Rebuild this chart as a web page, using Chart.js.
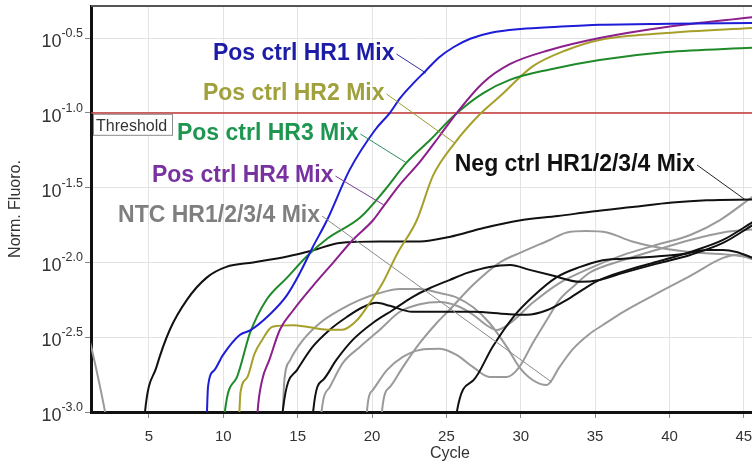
<!DOCTYPE html>
<html>
<head>
<meta charset="utf-8">
<title>Amplification plot</title>
<script src="https://cdn.jsdelivr.net/npm/chart.js@4.4.1/dist/chart.umd.min.js"></script>
<style>
  html, body { margin: 0; padding: 0; background: #ffffff; }
  #wrap { width: 752px; height: 465px; }
</style>
</head>
<body>
<div id="wrap"><canvas id="amp" width="752" height="465"></canvas></div>
<script>
// Axis ticks
const cycleTicks = [5, 10, 15, 20, 25, 30, 35, 40, 45];
const fluoroTickExps = [-3.0, -2.5, -2.0, -1.5, -1.0, -0.5];
const thresholdExp = -1.0;

// Amplification curves: [cycle, log10(Norm. Fluoro.)]
const posHR1 = [[8.85,-3.2],[8.9,-3.0],[8.97,-2.83],[9.4,-2.72],[9.97,-2.62],[11.1,-2.485],[11.8,-2.455],[13.1,-2.35],[14.27,-2.22],[15.15,-2.07],[16.0,-1.90],[16.96,-1.72],[18.5,-1.38],[20.2,-1.115],[21.2,-1.0],[21.9,-0.90],[22.8,-0.80],[23.6,-0.72],[24.5,-0.63],[25.5,-0.56],[26.6,-0.505],[28.0,-0.465],[30.0,-0.44],[32.5,-0.425],[35.3,-0.412],[40.0,-0.405],[45.6,-0.40]];
const posHR2 = [[11.0,-3.2],[11.08,-3.0],[11.15,-2.87],[11.6,-2.77],[12.1,-2.61],[12.6,-2.52],[13.3,-2.43],[14.7,-2.42],[15.6,-2.43],[17.0,-2.45],[18.0,-2.45],[19.0,-2.385],[19.85,-2.27],[20.7,-2.14],[21.7,-1.94],[23.0,-1.72],[24.1,-1.42],[25.56,-1.202],[27.2,-1.015],[28.6,-0.89],[30.8,-0.69],[33.1,-0.58],[35.3,-0.513],[39.8,-0.467],[45.6,-0.433]];
const posHR3 = [[10.0,-3.2],[10.1,-3.0],[10.9,-2.77],[11.8,-2.47],[12.9,-2.25],[14.3,-2.10],[15.6,-1.96],[17.0,-1.84],[19.2,-1.70],[20.86,-1.516],[22.3,-1.335],[23.9,-1.182],[25.56,-1.015],[27.45,-0.87],[29.26,-0.78],[31.95,-0.71],[35.3,-0.647],[39.8,-0.594],[45.6,-0.565]];
const posHR4 = [[12.2,-3.2],[12.3,-3.0],[12.6,-2.79],[13.1,-2.65],[13.8,-2.45],[14.7,-2.32],[16.0,-2.16],[17.4,-2.0],[18.7,-1.85],[20.05,-1.72],[20.8,-1.62],[21.87,-1.48],[23.2,-1.33],[24.5,-1.16],[25.7,-1.0],[27.45,-0.80],[29.26,-0.675],[31.95,-0.58],[35.3,-0.50],[39.8,-0.426],[45.6,-0.36]];

const negA = [[4.6,-3.2],[4.73,-3.0],[5.5,-2.70],[6.4,-2.45],[7.55,-2.25],[8.9,-2.10],[10.2,-2.03],[12.0,-2.0],[14.3,-1.96],[16.0,-1.92],[17.8,-1.87],[20.5,-1.86],[23.2,-1.86],[25.2,-1.83],[27.5,-1.77],[29.9,-1.72],[32.5,-1.69],[34.8,-1.66],[37.5,-1.63],[40.2,-1.60],[42.5,-1.585],[45.6,-1.58]];
const negB = [[13.9,-3.2],[14.0,-2.99],[14.95,-2.72],[16.0,-2.565],[17.16,-2.45],[18.3,-2.365],[19.4,-2.298],[20.3,-2.27],[21.2,-2.29],[22.7,-2.33],[24.56,-2.33],[26.8,-2.33],[29.06,-2.345],[30.4,-2.35],[31.75,-2.32],[33.1,-2.25],[34.2,-2.18],[35.3,-2.117],[36.9,-2.06],[39.1,-1.997],[41.4,-1.93],[43.6,-1.85],[45.6,-1.73]];
const negC = [[16.0,-3.2],[16.05,-2.987],[16.7,-2.786],[17.6,-2.652],[18.7,-2.518],[20.05,-2.405],[21.4,-2.318],[22.74,-2.23],[23.9,-2.171],[25.2,-2.118],[26.4,-2.07],[27.9,-2.03],[29.3,-2.017],[30.6,-2.05],[32.0,-2.084],[34.0,-2.13],[35.3,-2.117],[36.9,-2.07],[39.1,-2.01],[41.4,-1.95],[43.6,-1.87],[45.6,-1.75]];
const negD = [[25.6,-3.2],[25.7,-3.0],[26.8,-2.79],[28.1,-2.565],[29.5,-2.365],[30.8,-2.23],[32.4,-2.10],[34.0,-2.03],[35.3,-1.99],[36.9,-1.975],[39.1,-1.96],[40.9,-1.944],[42.5,-1.917],[43.6,-1.917],[44.5,-1.93],[45.6,-1.97]];

const ntcA = [[1.0,-2.52],[1.2,-2.6],[2.05,-3.0],[2.4,-3.2]];
const ntcB = [[13.9,-3.2],[14.0,-3.0],[14.1,-2.79],[14.5,-2.652],[15.35,-2.52],[16.5,-2.405],[17.84,-2.318],[19.18,-2.251],[20.5,-2.205],[21.87,-2.178],[23.2,-2.178],[24.56,-2.205],[25.7,-2.235],[26.8,-2.30],[27.9,-2.405],[29.06,-2.565],[29.9,-2.70],[30.8,-2.786],[31.75,-2.82],[32.6,-2.70],[33.5,-2.58],[34.6,-2.48],[35.5,-2.42],[36.9,-2.33],[39.1,-2.21],[41.4,-2.09],[43.6,-1.97],[44.5,-1.95],[45.6,-1.98]];
const ntcC = [[16.5,-3.2],[16.6,-3.0],[17.16,-2.833],[18.04,-2.672],[19.18,-2.565],[20.5,-2.452],[21.87,-2.33],[23.2,-2.28],[24.56,-2.265],[25.7,-2.29],[26.8,-2.35],[27.7,-2.42],[28.4,-2.452],[29.3,-2.405],[30.8,-2.27],[32.6,-2.138],[34.4,-2.05],[36.9,-1.95],[39.1,-1.884],[41.4,-1.817],[43.4,-1.717],[45.6,-1.56]];
const ntcD = [[19.6,-3.2],[19.65,-3.0],[20.05,-2.853],[21.0,-2.72],[22.07,-2.632],[23.2,-2.585],[24.56,-2.578],[25.7,-2.62],[26.8,-2.70],[27.9,-2.766],[29.06,-2.766],[29.9,-2.70],[30.8,-2.54],[31.75,-2.385],[32.6,-2.25],[33.5,-2.164],[34.6,-2.071],[35.3,-2.037],[36.9,-1.984],[39.1,-1.917],[41.4,-1.85],[43.6,-1.80],[45.6,-1.78]];
const ntcE = [[20.6,-3.2],[20.66,-3.0],[21.2,-2.833],[22.07,-2.70],[23.2,-2.54],[24.35,-2.405],[25.2,-2.318],[26.8,-2.15],[28.6,-2.0],[30.1,-1.93],[31.95,-1.85],[33.1,-1.80],[34.4,-1.79],[35.8,-1.80],[37.5,-1.86],[39.8,-1.91],[42.0,-1.935],[44.25,-1.95],[45.6,-1.97]];

const FONT = "'Liberation Sans', Arial, Helvetica, sans-serif";
const BLUE = '#1d1dd8', OLIVE = '#a6a02a', GREEN = '#1f8a2a', PURPLE = '#8b1f8b', BLACK = '#111111', GRAY = '#9a9a9a';

// Listed first = drawn on top
const series = [
  { data: posHR1, color: BLUE },
  { data: posHR4, color: PURPLE },
  { data: posHR3, color: GREEN },
  { data: posHR2, color: OLIVE },
  { data: negA, color: BLACK },
  { data: negB, color: BLACK },
  { data: negC, color: BLACK },
  { data: negD, color: BLACK },
  { data: ntcA, color: GRAY },
  { data: ntcB, color: GRAY },
  { data: ntcC, color: GRAY },
  { data: ntcD, color: GRAY },
  { data: ntcE, color: GRAY }
];

// Callout labels: text anchor and leader target in [cycle, log10] space
const callouts = [
  { text: 'Pos ctrl HR1 Mix', color: '#1c1ca6', line: '#3030a0', at: [9.30, -0.647], to: [23.62, -0.734] },
  { text: 'Pos ctrl HR2 Mix', color: '#a0a03c', line: '#9a9a30', at: [8.63, -0.914], to: [25.56, -1.202] },
  { text: 'Pos ctrl HR3 Mix', color: '#1e9650', line: '#2a9060', at: [6.88, -1.182], to: [22.34, -1.336] },
  { text: 'Pos ctrl HR4 Mix', color: '#7832a0', line: '#7a3a90', at: [5.20, -1.463], to: [20.79, -1.616] },
  { text: 'NTC HR1/2/3/4 Mix', color: '#7f7f7f', line: '#8a8a8a', at: [2.92, -1.730], to: [32.08, -2.80] },
  { text: 'Neg ctrl HR1/2/3/4 Mix', color: '#111111', line: '#222222', at: [25.56, -1.389], to: [45.12, -1.583] }
];

const pow10 = e => Math.pow(10, e);
const toPoints = arr => arr.map(([c, e]) => ({ x: c, y: pow10(e) }));

const decorations = {
  id: 'ampDecor',
  beforeDatasetsDraw(chart) {
    const { ctx, chartArea: a, scales: { y } } = chart;
    const ty = Math.round(y.getPixelForValue(pow10(thresholdExp)));
    ctx.save();
    ctx.strokeStyle = '#c23434';
    ctx.lineWidth = 1.5;
    ctx.beginPath();
    ctx.moveTo(a.left, ty);
    ctx.lineTo(a.right, ty);
    ctx.stroke();
    ctx.restore();
  },
  afterDatasetsDraw(chart) {
    const { ctx, chartArea: a, scales: { x, y } } = chart;
    ctx.save();

    // top frame line
    ctx.strokeStyle = '#555555';
    ctx.lineWidth = 2;
    ctx.beginPath();
    ctx.moveTo(a.left, a.top);
    ctx.lineTo(a.right, a.top);
    ctx.stroke();

    // threshold tag
    const ty = y.getPixelForValue(pow10(thresholdExp));
    ctx.fillStyle = '#ffffff';
    ctx.strokeStyle = '#8c8c8c';
    ctx.lineWidth = 1;
    ctx.fillRect(a.left + 2, ty + 1.5, 79, 21);
    ctx.strokeRect(a.left + 2.5, ty + 1.5, 79, 21);
    ctx.fillStyle = '#333333';
    ctx.font = `16px ${FONT}`;
    ctx.textAlign = 'left';
    ctx.textBaseline = 'alphabetic';
    ctx.fillText('Threshold', a.left + 5, ty + 18);

    // callouts
    ctx.font = `bold 23px ${FONT}`;
    callouts.forEach(c => {
      const tx = x.getPixelForValue(c.at[0]);
      const tyy = y.getPixelForValue(pow10(c.at[1]));
      ctx.fillStyle = c.color;
      ctx.fillText(c.text, tx, tyy);
      const w = ctx.measureText(c.text).width;
      ctx.strokeStyle = c.line;
      ctx.lineWidth = 1;
      ctx.beginPath();
      ctx.moveTo(tx + w + 2, tyy - 6);
      ctx.lineTo(x.getPixelForValue(c.to[0]), y.getPixelForValue(pow10(c.to[1])));
      ctx.stroke();
    });
    ctx.restore();
  },
  afterDraw(chart) {
    const { ctx, chartArea: a, scales: { x, y } } = chart;
    ctx.save();
    ctx.fillStyle = '#333333';
    ctx.textBaseline = 'alphabetic';

    // y tick labels as powers of ten
    fluoroTickExps.forEach(e => {
      const py = y.getPixelForValue(pow10(e));
      const ex = e.toFixed(1);
      ctx.font = `12.5px ${FONT}`;
      const we = ctx.measureText(ex).width;
      ctx.font = `18px ${FONT}`;
      const wb = ctx.measureText('10').width;
      const x0 = a.left - 8 - we - wb;
      ctx.textAlign = 'left';
      ctx.fillText('10', x0, py + 9);
      ctx.font = `12.5px ${FONT}`;
      ctx.fillText(ex, x0 + wb, py - 1);
    });

    // x tick labels
    ctx.font = `15px ${FONT}`;
    ctx.textAlign = 'center';
    cycleTicks.forEach(c => {
      ctx.fillText(String(c), x.getPixelForValue(c), a.bottom + 29);
    });

    // axis titles
    ctx.font = `16px ${FONT}`;
    ctx.fillText('Cycle', 450, a.bottom + 46);
    ctx.translate(16, (a.top + a.bottom) / 2);
    ctx.rotate(-Math.PI / 2);
    ctx.textBaseline = 'middle';
    ctx.fillText('Norm. Fluoro.', 0, 0);
    ctx.restore();
  }
};

new Chart(document.getElementById('amp'), {
  type: 'line',
  data: {
    datasets: series.map(s => ({
      data: toPoints(s.data),
      borderColor: s.color,
      borderWidth: 2,
      pointRadius: 0,
      fill: false,
      cubicInterpolationMode: 'monotone'
    }))
  },
  options: {
    responsive: false,
    animation: false,
    devicePixelRatio: 1,
    parsing: false,
    layout: { padding: { top: 6, right: 0, bottom: 0, left: 0 } },
    plugins: { legend: { display: false }, tooltip: { enabled: false } },
    scales: {
      x: {
        type: 'linear',
        min: 1.1,
        max: 45.55,
        afterBuildTicks: s => { s.ticks = cycleTicks.map(v => ({ value: v })); },
        afterFit: s => { s.height = 53; },
        ticks: { display: false },
        grid: { color: '#e3e3e3', lineWidth: 1, drawTicks: true, tickLength: 6, tickColor: '#888888' },
        border: { display: true, color: '#111111', width: 3 }
      },
      y: {
        type: 'logarithmic',
        min: pow10(-3.0),
        max: pow10(-0.286),
        afterBuildTicks: s => { s.ticks = fluoroTickExps.map(e => ({ value: pow10(e) })); },
        afterFit: s => { s.width = 91; },
        ticks: { display: false },
        grid: { color: '#e3e3e3', lineWidth: 1, drawTicks: true, tickLength: 6, tickColor: '#888888' },
        border: { display: true, color: '#111111', width: 3 }
      }
    }
  },
  plugins: [decorations]
});
</script>
</body>
</html>
